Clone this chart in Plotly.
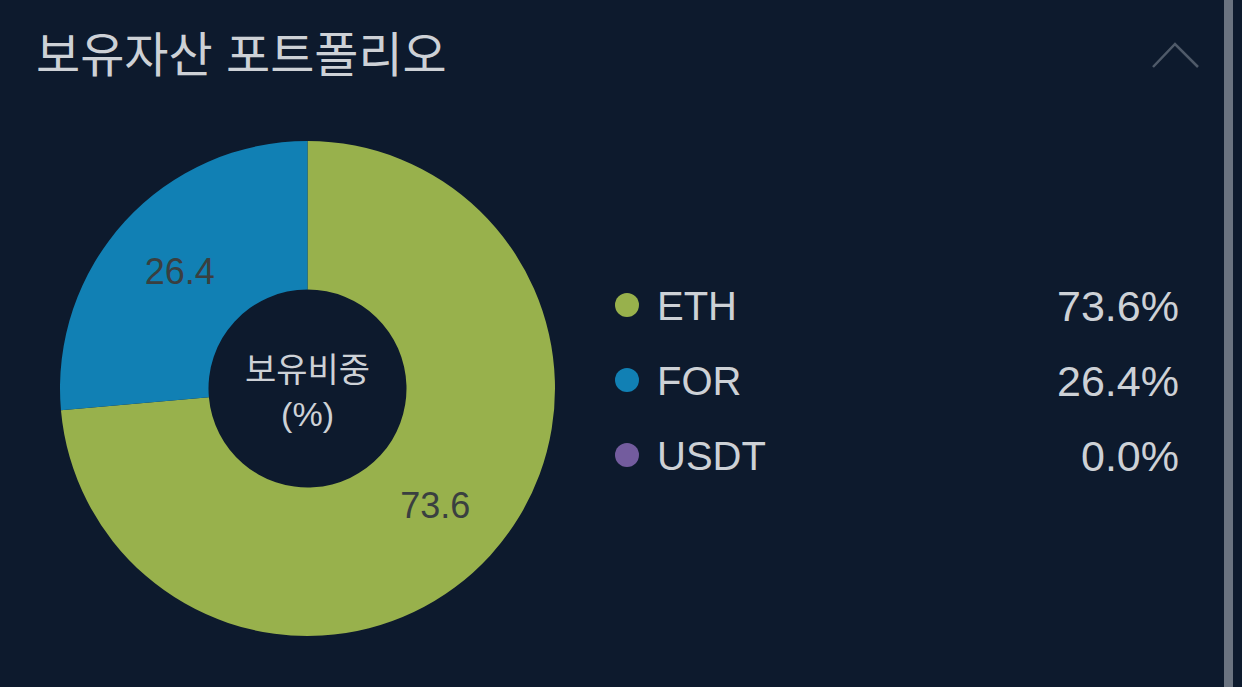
import plotly.graph_objects as go

W, H = 1242, 687
BG = "#0d1a2d"
FONT = "Liberation Sans, Noto Sans CJK KR, sans-serif"
TEXT = "#cdd1d6"

assets = ["ETH", "FOR", "USDT"]
shares = [73.6, 26.4, 0.0]
colors = ["#98b14c", "#1180b4", "#735c9e"]
slice_labels = ["73.6", "26.4", ""]
title = "보유자산 포트폴리오"
center_label = "보유비중<br>(%)"

fig = go.Figure()
# donut centre 307.5,388 radius ~248 in px
fig.add_trace(go.Pie(
    labels=assets, values=shares, hole=0.4, sort=False, direction="clockwise",
    rotation=0, marker=dict(colors=colors, line=dict(width=0)),
    text=slice_labels, textinfo="text", textposition="inside", insidetextorientation="horizontal",
    textfont=dict(size=36, color="#3a3f40", family=FONT),
    domain=dict(x=[60/W, 555/W], y=[1-636/H, 1-141/H]),
    showlegend=False,
))

annotations = [
    dict(x=34/W, y=1-55/H, text=title, xanchor="left", font=dict(size=48, color=TEXT)),
    dict(x=307/W, y=1-392/H, text=center_label, xanchor="center", font=dict(size=34, color=TEXT)),
]
rows_y = [306, 381, 456]
for name, share, c, y in zip(assets, shares, colors, rows_y):
    annotations.append(dict(x=655/W, y=1-y/H, text=name, xanchor="left", font=dict(size=40, color=TEXT)))
    annotations.append(dict(x=1181/W, y=1-y/H, text=f"{share:.1f}%", xanchor="right", font=dict(size=43, color=TEXT)))
for a in annotations:
    a.update(xref="paper", yref="paper", yanchor="middle", showarrow=False)

shapes = [dict(type="circle", xref="paper", yref="paper",
               x0=615/W, x1=639/W, y0=1-(y+12)/H, y1=1-(y-12)/H,
               fillcolor=c, line=dict(width=0))
          for c, y in zip(colors, [305, 380, 455])]
# scrollbar and collapse chevron
shapes.append(dict(type="rect", xref="paper", yref="paper", x0=1224/W, x1=1233/W, y0=0, y1=1,
                   fillcolor="#6a7380", line=dict(width=0)))
shapes.append(dict(type="path", xref="paper", yref="paper",
                   path=f"M {1153/W} {1-67/H} L {1175/W} {1-44/H} L {1198/W} {1-67/H}",
                   line=dict(color="#4f5a69", width=2.5)))

fig.update_layout(
    width=W, height=H, margin=dict(l=0, r=0, t=0, b=0),
    paper_bgcolor=BG, plot_bgcolor=BG, font=dict(family=FONT),
    annotations=annotations, shapes=shapes,
)
# page margin would push the figure 8px down and right
fig.write_html("out.html", config={"displayModeBar": False},
               post_script="document.body.style.margin='0';document.body.style.background='#0d1a2d';document.body.style.overflow='hidden';")
